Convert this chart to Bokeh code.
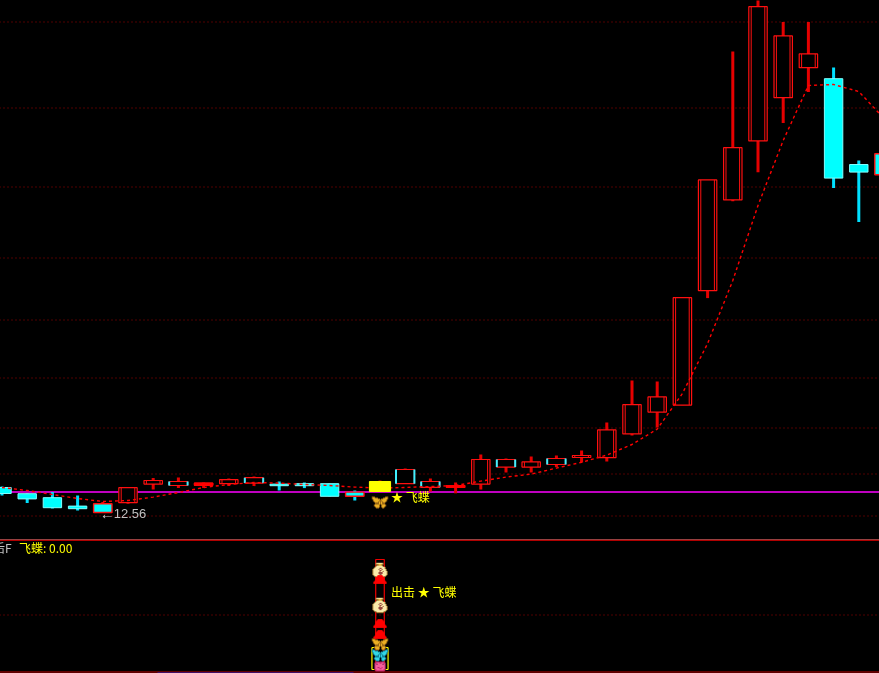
from bokeh.plotting import figure
from bokeh.layouts import column
from bokeh.embed import file_html
from bokeh.resources import INLINE
from bokeh.core.properties import value
import numpy as np

high = [13.86,13.51,13.58,13.41,13.08,13.81,14.28,14.31,14.06,14.26,14.36,14.11,14.06,14.00,13.66,14.16,14.76,14.26,14.06,15.46,15.26,15.36,15.41,15.66,17.06,19.16,19.11,23.30,29.19,35.61,38.16,37.09,37.09,34.81,30.16,30.51]
top = [13.81,13.50,13.30,12.88,13.00,13.80,14.16,14.11,14.03,14.20,14.30,13.98,14.00,14.00,13.58,14.11,14.71,14.11,13.91,15.21,15.21,15.09,15.26,15.41,16.69,17.95,18.34,23.30,29.19,30.80,37.85,36.39,35.49,34.25,29.96,30.50]
bottom = [13.51,13.24,12.80,12.75,12.56,13.05,13.98,13.91,13.92,14.00,14.03,13.90,13.90,13.37,13.37,13.61,14.00,13.82,13.81,13.98,14.83,14.83,14.96,15.31,15.30,16.49,17.58,17.93,23.65,28.19,31.14,33.30,34.80,29.28,29.58,29.45]
low = [13.41,13.03,12.76,12.66,12.56,13.00,13.71,13.78,13.78,13.88,13.88,13.66,13.78,13.37,13.16,13.61,14.00,13.61,13.52,13.71,14.56,14.56,14.83,15.06,15.11,16.41,16.81,17.93,23.28,28.12,29.57,32.03,33.58,28.78,27.08,29.45]
kinds = list("ccccmhhefhecccmyeefheheh" "hhhhhhhhhccm")
ma = [13.81,13.66,13.46,13.26,13.11,13.16,13.33,13.56,13.81,13.96,14.06,14.03,13.96,13.91,13.83,13.78,13.81,13.86,13.91,14.13,14.33,14.48,14.78,15.07,15.43,15.96,16.73,18.51,21.01,24.16,27.91,31.16,33.91,33.96,33.61,32.26]
grid_prices = [37.085,32.785,28.835,25.285,22.185,19.285,16.785,14.485,12.385]
signal_bar = 15
low_label = "12.56"
sub_label = "飞蝶: 0.00"
cut_label = "后F"
star_label = "★ 飞蝶"
sub_star_label = "出击 ★ 飞蝶"

BUTTERFLY = ["###.........###","#oo##.....##oo#","#oooo##.##oooo#",".#ooooo#ooooo#.",".#oooo###oooo#.","..#oo#o#o#oo#..","...###o#o###...","..#ooo#.#ooo#..","..#ooo#.#ooo#..","...#oo#.#oo#...","....##...##...."]
BAG = ["...#ooooo#....","...##yyy##....","....#yyy#.....","...#ooooo#....","..#oooooooo#..",".#oooossooo#..","#oooosoosooo#.","#ooooossoooo#.","#ooooosoosooo#","#oooossssoooo#","#ooooossooooo#",".#oooooooooo#.","..##oooooo##..","....######...."]
ARROW = [".....##.....","....####....","...######...","..########..","..########..",".##########.","############","############"]
PINK = ["...#....#...","..########..",".##oo##oo##.",".#oxooooxo#.",".#oooooooo#.",".#oo#oo#oo#.",".#ooo##ooo#.",".##oooooo##.","..########.."]
GOLD = {"#":(150,100,20),"o":(235,175,35)}
CYAN = {"#":(15,130,150),"o":(50,215,230)}
BAGC = {"#":(160,120,50),"o":(250,235,170),"y":(235,185,60),"s":(150,70,60)}
RED = {"#":(255,0,0)}
PINKC = {"#":(200,40,110),"o":(245,95,155),"x":(90,20,50)}
ICON_SCALE = 1.1

XS, XE = -2.5/25.2, 877.5/25.2

def base(h, yr):
    f = figure(width=880, height=h, x_range=(XS, XE), y_range=yr, toolbar_location=None,
               output_backend="svg", background_fill_color="black", border_fill_color="black",
               min_border=0, x_axis_location=None, y_axis_location=None)
    f.outline_line_color = None
    f.grid.visible = False
    return f

def hline(f, ys, **kw):
    n = len(ys)
    f.segment(x0=[XS]*n, x1=[XE]*n, y0=ys, y1=ys, **kw)

def icon(f, art, pal, x, y):
    h, w = len(art), max(len(r) for r in art)
    img = np.zeros((h, w), dtype=np.uint32)
    v = img.view(np.uint8).reshape((h, w, 4))
    for r, row in enumerate(art):
        for c, ch in enumerate(row):
            if ch in pal:
                v[h-1-r, c] = (*pal[ch], 255)
    f.image_rgba(image=[img], x=x, y=y, dw=w*ICON_SCALE, dh=h*ICON_SCALE, dw_units="screen", dh_units="screen", anchor="center")

p = base(540, (11.21, 38.21))
idx = list(range(len(top)))
hline(p, grid_prices, line_color="#a00000", line_width=1, line_dash="1 3")
hline(p, [13.585], line_color="#ff00ff", line_width=1.5)

wc = ["#00e0ff" if k in "cm" and i != 4 else "#e60000" for i, k in enumerate(kinds)]
p.segment(x0=idx, x1=idx, y0=low, y1=high, line_color=wc, line_width=3)

def sel(ks):
    return [i for i in idx if kinds[i] in ks]

H = 0.365
a = sel("hef")
p.quad(left=[i-H for i in a], right=[i+H for i in a], top=[top[i] for i in a], bottom=[bottom[i] for i in a],
       fill_color="black", line_color="#ff1010", line_width=1.2)
a = sel("h")
for sgn in (-1, 1):
    p.segment(x0=[i+sgn*0.27 for i in a], x1=[i+sgn*0.27 for i in a], y0=[top[i] for i in a], y1=[bottom[i] for i in a],
              line_color="#ff1010", line_width=1)
a = sel("e")
for sgn in (-1, 1):
    p.segment(x0=[i+sgn*H for i in a], x1=[i+sgn*H for i in a], y0=[top[i] for i in a], y1=[bottom[i] for i in a],
              line_color="#40f0ff", line_width=2)
a = sel("f")
p.quad(left=[i-H for i in a], right=[i+H for i in a], top=[top[i] for i in a], bottom=[bottom[i] for i in a],
       fill_color="#ff0000", line_color="#ff0000")
a = sel("c")
p.quad(left=[i-H for i in a], right=[i+H for i in a], top=[top[i] for i in a], bottom=[bottom[i] for i in a],
       fill_color="#00ffff", line_color="#80ffff", line_width=1)
a = sel("m")
p.quad(left=[i-H for i in a], right=[i+H for i in a], top=[top[i] for i in a], bottom=[bottom[i] for i in a],
       fill_color="#00ffff", line_color="#ff1010", line_width=1.4)

p.line(idx, ma, line_color="#ff0000", line_width=1.4, line_dash="3 3")

a = sel("y")
p.quad(left=[i-0.42 for i in a], right=[i+0.42 for i in a], top=[top[i] for i in a], bottom=[bottom[i] for i in a],
       fill_color="#ffff00", line_color="#ffff00")

cjk = value("Noto Sans CJK SC")
p.text(x=[4], y=[12.53], text=["←"], text_color="#c0c0c0", text_font=value("Liberation Sans"),
       text_font_size="15px", text_baseline="middle", text_align="right", x_offset=[12])
p.text(x=[4], y=[12.53], text=[low_label], text_color="#c0c0c0", text_font=value("Liberation Sans"),
       text_font_size="13px", text_baseline="middle", text_align="left", x_offset=[11])
p.text(x=[signal_bar], y=[13.36], text=[star_label], text_color="#ffff00", text_font=cjk,
       text_font_size="12px", text_baseline="middle", text_align="left", x_offset=[11])
icon(p, BUTTERFLY, GOLD, signal_bar, 13.06)

# lower panel, 1 unit = 1 px above the bottom rule
q = base(134, (-2, 132))
hline(q, [131.5], line_color="#b00000", line_width=2)
hline(q, [56.5], line_color="#a00000", line_width=1, line_dash="1 3")
hline(q, [-0.5], line_color="#c00000", line_width=1)
q.segment(x0=[6.17], x1=[13.95], y0=[-1.5], y1=[-1.5], line_color="#2020d0", line_width=1)
q.quad(left=[signal_bar-0.17], right=[signal_bar+0.17], top=[112], bottom=[1],
       fill_color=None, line_color="#f00000", line_width=1.2)
bx, by0, by1 = signal_bar, 2, 24
q.segment(x0=[bx-0.32, bx+0.32, bx-0.32, bx+0.32, bx-0.32, bx+0.32],
          x1=[bx-0.32, bx+0.32, bx-0.22, bx+0.22, bx-0.22, bx+0.22],
          y0=[by0, by0, by0, by0, by1, by1], y1=[by1, by1, by0, by0, by1, by1],
          line_color="#ffff00", line_width=1.2)
icon(q, BAG, BAGC, signal_bar, 101)
icon(q, ARROW, RED, signal_bar, 92)
icon(q, BAG, BAGC, signal_bar, 66)
icon(q, ARROW, RED, signal_bar, 48)
icon(q, ARROW, RED, signal_bar, 37)
icon(q, BUTTERFLY, GOLD, signal_bar, 27)
icon(q, BUTTERFLY, CYAN, signal_bar, 16)
icon(q, PINK, PINKC, signal_bar, 5)
q.text(x=[0], y=[124], text=[sub_label], text_color="#ffff00", text_font=cjk, text_font_size="12px",
       text_baseline="middle", text_align="left", x_offset=[17])
q.text(x=[0], y=[124], text=[cut_label], text_color="#c0c0c0", text_font=cjk, text_font_size="12px",
       text_baseline="middle", text_align="left", x_offset=[-9])
q.text(x=[signal_bar], y=[80], text=[sub_star_label], text_color="#ffff00", text_font=cjk, text_font_size="12px",
       text_baseline="middle", text_align="left", x_offset=[11])

layout = column(p, q, spacing=0)
layout.styles = {"position": "fixed", "left": "-1px", "top": "-1px"}
open("out.html", "w").write(file_html(layout, INLINE))
